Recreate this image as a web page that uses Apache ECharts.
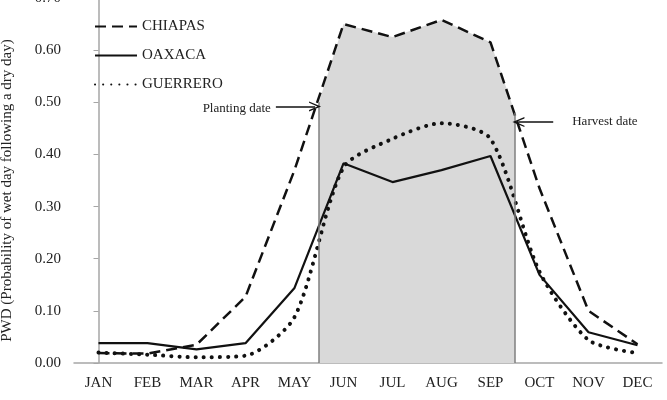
<!DOCTYPE html>
<html lang="en">
<head>
    <meta charset="UTF-8">
    <title>PWD</title>
    <style>
        html,body{
            margin:0;
            padding:0;
            background:#fff;
        }
        #chart{
            width:667px;
            height:400px;
        }
    </style>
</head>
<body>
<div id="chart"></div>
<script src="https://cdn.jsdelivr.net/npm/echarts@6/dist/echarts.min.js"></script>
<script>
    var months = ['JAN','FEB','MAR','APR','MAY','JUN','JUL','AUG','SEP','OCT','NOV','DEC'];
    var chiapas = [0.019, 0.018, 0.035, 0.127, 0.37, 0.65, 0.625, 0.658, 0.615, 0.335, 0.10, 0.036];
    var oaxaca = [0.038, 0.038, 0.026, 0.038, 0.144, 0.383, 0.347, 0.37, 0.397, 0.169, 0.059, 0.034];
    var guerrero = [0.02, 0.016, 0.011, 0.014, 0.088, 0.375, 0.43, 0.46, 0.43, 0.175, 0.044, 0.019];

    // growing season (month positions: 0 = JAN)
    var plantingAt = 4.5, plantingPwd = 0.50;
    var harvestAt = 8.5, harvestPwd = 0.48;

    var serif = 'Liberation Serif',
        inkColor = '#111',
        axisColor = '#a6a6a6';

    // shaded season: Chiapas curve between planting and harvest
    var season = [[plantingAt, plantingPwd]];
    for (var i = 5; i <= 8; i++) {
        season.push([i, chiapas[i]]);
    }
    season.push([harvestAt, harvestPwd]);

    var arrowHead = 'path://M0,10 L5,0 L10,10 L8.6,10 L5,3 L1.4,10 Z';

    var option = {
        backgroundColor: '#fff',
        animation: false,
        textStyle: {
            fontFamily: serif,
            color: '#222'
        },
        grid: {
            left: 74,
            right: 5,
            top: -2,
            bottom: 37,
            containLabel: false,
            outerBoundsMode: 'none'
        },
        legend: {
            orient: 'vertical',
            left: 89,
            top: 14,
            itemWidth: 42,
            itemHeight: 14,
            itemGap: 14,
            itemStyle: {opacity: 0},
            textStyle: {
                fontFamily: serif,
                fontSize: 15,
                color: '#222'
            },
            data: ['CHIAPAS', 'OAXACA', 'GUERRERO']
        },
        xAxis: [
            {
                type: 'category',
                data: months,
                boundaryGap: true,
                axisLine: {lineStyle: {color: axisColor, width: 1.5}},
                axisTick: {length: 5, lineStyle: {color: axisColor}},
                axisLabel: {
                    margin: 13,
                    fontFamily: serif,
                    fontSize: 15,
                    color: '#222'
                },
                splitLine: {show: false}
            },
            {
                type: 'value',
                min: -0.5,
                max: 11.5,
                show: false
            }
        ],
        yAxis: {
            type: 'value',
            min: 0,
            max: 0.7,
            interval: 0.1,
            name: 'PWD (Probability of wet day following a dry day)',
            nameLocation: 'middle',
            nameGap: 59,
            nameTextStyle: {
                fontFamily: serif,
                fontSize: 15,
                color: '#222',
                padding: [0, 20, 0, 0]
            },
            axisLine: {show: true, lineStyle: {color: axisColor, width: 1.5}},
            axisTick: {show: true, length: 5, lineStyle: {color: axisColor}},
            axisLabel: {
                margin: 13,
                fontFamily: serif,
                fontSize: 15,
                color: '#222',
                formatter: function (v) {
                    return v.toFixed(2);
                }
            },
            splitLine: {show: false}
        },
        series: [
            {
                name: 'season',
                type: 'line',
                xAxisIndex: 1,
                data: season,
                symbol: 'none',
                lineStyle: {width: 0},
                areaStyle: {color: '#d9d9d9', opacity: 1},
                z: 1,
                silent: true,
                markLine: {
                    silent: true,
                    symbol: 'none',
                    lineStyle: {color: '#7f7f7f', width: 1.5, type: 'solid'},
                    label: {show: false},
                    data: [
                        [{coord: [plantingAt, 0]}, {coord: [plantingAt, plantingPwd]}],
                        [{coord: [harvestAt, 0]}, {coord: [harvestAt, harvestPwd]}]
                    ]
                }
            },
            {
                name: 'arrows',
                type: 'line',
                xAxisIndex: 1,
                data: [],
                silent: true,
                markLine: {
                    silent: true,
                    symbol: ['none', arrowHead],
                    symbolSize: [10, 12],
                    lineStyle: {color: '#111', width: 1.5, type: 'solid'},
                    label: {
                        show: true,
                        position: 'start',
                        distance: 6,
                        fontFamily: serif,
                        fontSize: 13,
                        color: '#222'
                    },
                    data: [
                        [{coord: [3.62, 0.492], label: {formatter: 'Planting date', distance: 5, offset: [0, 2]}}, {coord: [4.42, 0.492]}],
                        [{coord: [9.28, 0.462], label: {formatter: 'Harvest date', distance: 19, offset: [0, -1]}}, {coord: [8.57, 0.462]}]
                    ]
                }
            },
            {
                name: 'CHIAPAS',
                type: 'line',
                data: chiapas,
                symbol: 'none',
                lineStyle: {color: inkColor, width: 2.5, type: [11, 6]},
                itemStyle: {color: inkColor},
                z: 3
            },
            {
                name: 'OAXACA',
                type: 'line',
                data: oaxaca,
                symbol: 'none',
                lineStyle: {color: inkColor, width: 2.2},
                itemStyle: {color: inkColor},
                z: 3
            },
            {
                name: 'GUERRERO',
                type: 'line',
                data: guerrero,
                symbol: 'none',
                smooth: 0.25,
                lineStyle: {color: inkColor, width: 4, type: [0.1, 8], cap: 'round'},
                itemStyle: {color: inkColor},
                z: 3
            }
        ]
    };

    var chart = echarts.init(document.getElementById('chart'));
    chart.setOption(option, true);
</script>
</body>
</html>
